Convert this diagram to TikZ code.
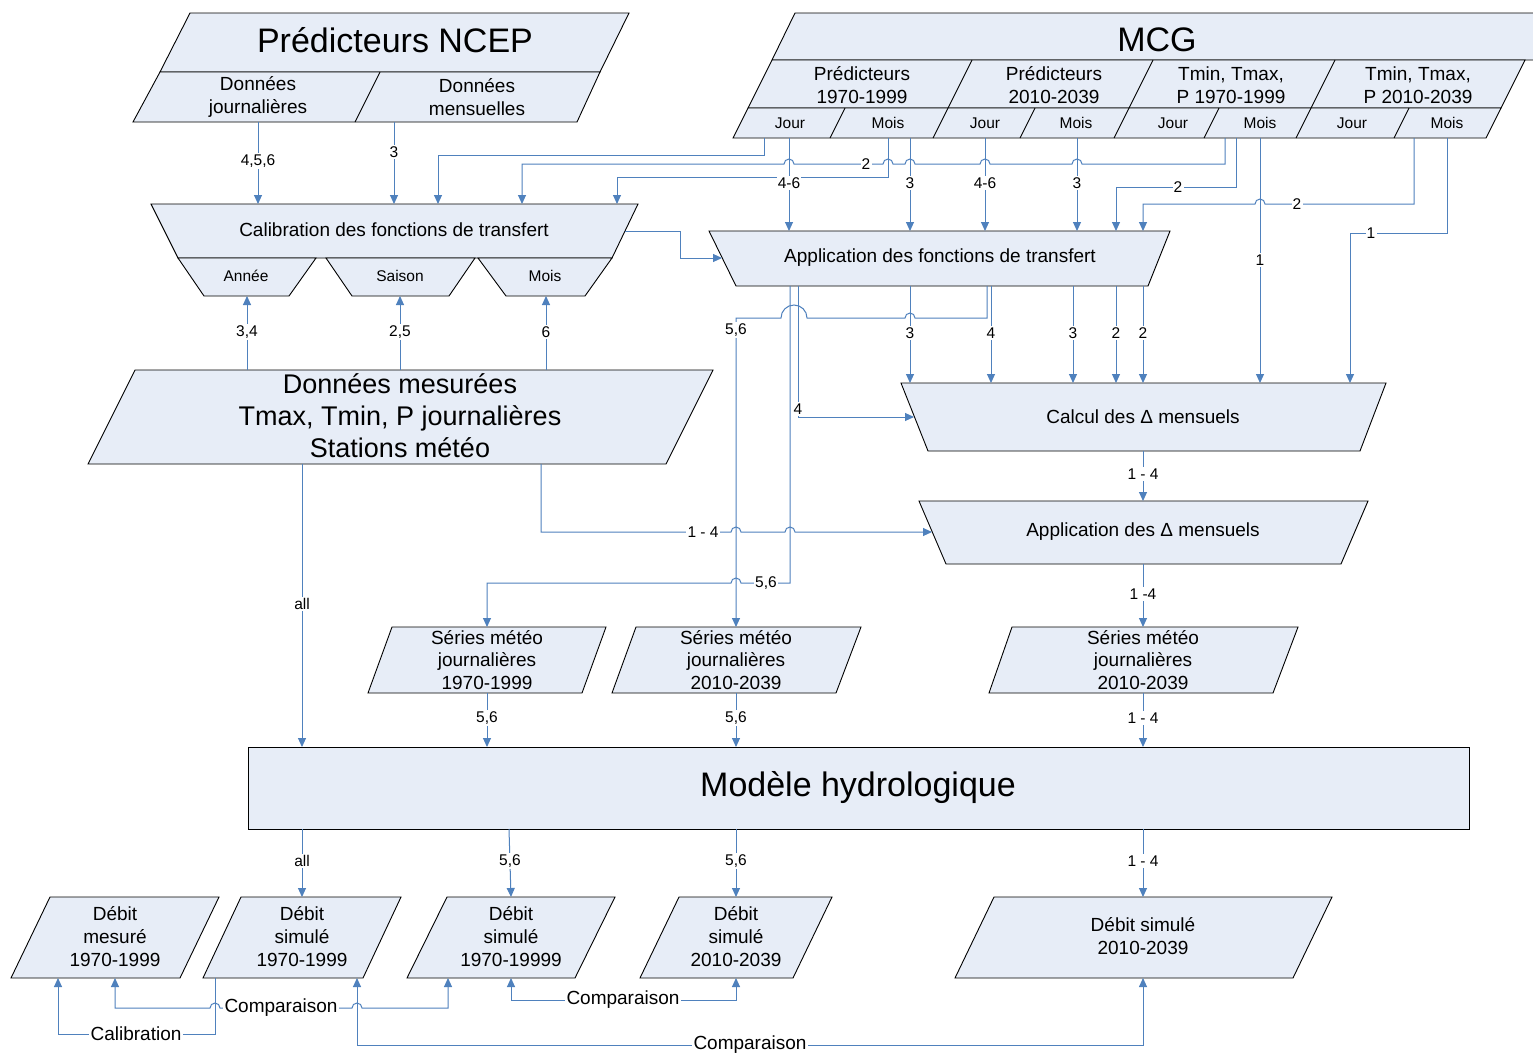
\documentclass[tikz,border=0pt]{standalone}
\usepackage{fontspec}
\setmainfont{Liberation Sans}
\usetikzlibrary{arrows.meta}
\definecolor{lb}{RGB}{79,129,189}
\definecolor{bf}{RGB}{231,237,247}
\newcommand\fsz[2]{\fontsize{#1pt}{#2pt}\selectfont}
\tikzset{
  box/.style={draw=black, line width=0.9pt, fill=bf, line join=miter},
  sep/.style={draw=black, line width=0.9pt},
  conn/.style={draw=lb, line width=1pt},
  arr/.style={conn, -{Triangle[length=9pt,width=8pt]}},
  dar/.style={conn, {Triangle[length=9pt,width=8pt]}-{Triangle[length=9pt,width=8pt]}},
  lbl/.style={fill=white, inner sep=1.2pt, font=\fsz{15.5}{18}},
  lblb/.style={fill=white, inner sep=1.2pt, font=\fsz{19}{22}},
  big/.style={font=\fsz{34}{40}},
  mid/.style={font=\fsz{19}{23}, align=center, inner sep=0pt},
  sml/.style={font=\fsz{15.5}{18}, inner sep=0pt},
  dat/.style={font=\fsz{27}{32}, align=center, inner sep=0pt},
}
\begin{document}
\begin{tikzpicture}[x=1pt,y=-1pt]
\useasboundingbox (0,0) rectangle (1533,1055);
\fill[white] (0,0) rectangle (1533,1055);
\clip (0,0) rectangle (1533,1055);

% ---------- NCEP ----------
\draw[box] (190,13) -- (629,13) -- (600,72) -- (160,72) -- cycle;
\draw[box] (160,72) -- (600,72) -- (577,122) -- (133,122) -- cycle;
\draw[sep] (380,72) -- (355,122);
\node[big] (ncep) at (395,40) {Prédicteurs NCEP};
\node[mid] (dj) at (258,97) {Données\\journalières};
\node[mid] (dm) at (477,97) {Données\\mensuelles};

% ---------- MCG ----------
\draw[box] (795,13) -- (1570,13) -- (1547,60) -- (772,60) -- cycle;
\draw[box] (772,60) -- (1525,60) -- (1501,108) -- (748,108) -- cycle;
\draw[box] (748,108) -- (1501,108) -- (1486,138) -- (733,138) -- cycle;
\draw[sep] (972,60) -- (948,108) -- (933,138);
\draw[sep] (1153,60) -- (1129,108) -- (1114,138);
\draw[sep] (1335,60) -- (1311,108) -- (1296,138);
\draw[sep] (845,108) -- (830,138);
\draw[sep] (1035,108) -- (1020,138);
\draw[sep] (1219,108) -- (1204,138);
\draw[sep] (1409,108) -- (1394,138);
\node[big] (mcg) at (1157,40) {MCG};
\node[mid] (p1) at (862,85) {Prédicteurs\\1970-1999};
\node[mid] (p2) at (1054,85) {Prédicteurs\\2010-2039};
\node[mid] (t1) at (1231,85) {Tmin, Tmax,\\P 1970-1999};
\node[mid] (t2) at (1418,85) {Tmin, Tmax,\\P 2010-2039};
\node[sml] (j1) at (790,123) {Jour};
\node[sml] (m1) at (888,123) {Mois};
\node[sml] (j2) at (985,123) {Jour};
\node[sml] (m2) at (1076,123) {Mois};
\node[sml] (j3) at (1173,123) {Jour};
\node[sml] (m3) at (1260,123) {Mois};
\node[sml] (j4) at (1352,123) {Jour};
\node[sml] (m4) at (1447,123) {Mois};

% ---------- Calibration ----------
\draw[box] (151,204) -- (638,204) -- (612,258) -- (178,258) -- cycle;
\draw[box] (178,258) -- (316,258) -- (289,296) -- (204,296) -- cycle;
\draw[box] (326,258) -- (475,258) -- (449,296) -- (352,296) -- cycle;
\draw[box] (478,258) -- (612,258) -- (585,296) -- (506,296) -- cycle;
\node[mid] (cal) at (394,230) {Calibration des fonctions de transfert};
\node[sml] (an) at (246,276) {Année};
\node[sml] (sa) at (400,276) {Saison};
\node[sml] (mo) at (545,276) {Mois};

% ---------- Application FT ----------
\draw[box] (709,231) -- (1170,231) -- (1148,286) -- (736,286) -- cycle;
\node[mid] (aft) at (940,258) {Application des fonctions de transfert};

% ---------- Données mesurées ----------
\draw[box] (135,370) -- (713,370) -- (666,464) -- (88,464) -- cycle;
\node[dat] (dmes) at (400,416) {Données mesurées\\Tmax, Tmin, P journalières\\Stations météo};

% ---------- Calcul / Application delta ----------
\draw[box] (901,383) -- (1386,383) -- (1360,451) -- (928,451) -- cycle;
\node[mid] (cd) at (1143,417) {Calcul des Δ mensuels};
\draw[box] (919,501) -- (1368,501) -- (1341,564) -- (946,564) -- cycle;
\node[mid] (ad) at (1143,532) {Application des Δ mensuels};

% ---------- Séries ----------
\draw[box] (392,627) -- (606,627) -- (582,693) -- (368,693) -- cycle;
\draw[box] (636,627) -- (861,627) -- (836,693) -- (612,693) -- cycle;
\draw[box] (1012,627) -- (1298,627) -- (1273,693) -- (989,693) -- cycle;
\node[mid, font=\fsz{19}{22.5}] (s1) at (487,660) {Séries météo\\journalières\\1970-1999};
\node[mid, font=\fsz{19}{22.5}] (s2) at (736,660) {Séries météo\\journalières\\2010-2039};
\node[mid, font=\fsz{19}{22.5}] (s3) at (1143,660) {Séries météo\\journalières\\2010-2039};

% ---------- Modèle ----------
\draw[box] (248,747) rectangle (1469,829);
\node[big] (mod) at (858,787) {Modèle hydrologique};

% ---------- Débits ----------
\draw[box] (50,897) -- (219,897) -- (180,978) -- (11,978) -- cycle;
\draw[box] (241,897) -- (401,897) -- (363,978) -- (203,978) -- cycle;
\draw[box] (447,897) -- (615,897) -- (575,978) -- (407,978) -- cycle;
\draw[box] (679,897) -- (832,897) -- (793,978) -- (640,978) -- cycle;
\draw[box] (994,897) -- (1332,897) -- (1293,978) -- (955,978) -- cycle;
\node[mid] (d1) at (115,937) {Débit\\mesuré\\1970-1999};
\node[mid] (d2) at (302,937) {Débit\\simulé\\1970-1999};
\node[mid] (d3) at (511,937) {Débit\\simulé\\1970-19999};
\node[mid] (d4) at (736,937) {Débit\\simulé\\2010-2039};
\node[mid] (d5) at (1143,936) {Débit simulé\\2010-2039};

% ---------- connectors: NCEP -> calibration ----------
\draw[arr] (258,122) -- (258,204);
\draw[arr] (394,122) -- (394,204);
\node[lbl] (l1) at (258,161) {4,5,6};
\node[lbl] (l2) at (394,152) {3};

% ---------- connectors: MCG ----------
\draw[arr] (764,138) -- (764,155) -- (438,155) -- (438,204);
\draw[arr] (789,138) -- (789,231);
\draw[arr] (1225,138) -- (1225,164) -- (1082,164) arc[start angle=0,end angle=-180,radius=5]
  -- (990,164) arc[start angle=0,end angle=-180,radius=5]
  -- (915,164) arc[start angle=0,end angle=-180,radius=5]
  -- (893,164) arc[start angle=0,end angle=-180,radius=5]
  -- (794,164) arc[start angle=0,end angle=-180,radius=5]
  -- (522,164) -- (522,204);
\draw[arr] (888,138) -- (888,177) -- (617,177) -- (617,204);
\draw[arr] (910,138) -- (910,231);
\draw[arr] (985,138) -- (985,231);
\draw[arr] (1077,138) -- (1077,231);
\draw[arr] (1236,138) -- (1236,187) -- (1116,187) -- (1116,231);
\draw[arr] (1260,138) -- (1260,383);
\draw[arr] (1414,138) -- (1414,204) -- (1265,204) arc[start angle=0,end angle=-180,radius=5] -- (1143,204) -- (1143,231);
\draw[arr] (1447,138) -- (1447,233) -- (1350,233) -- (1350,383);
\node[lbl] (l3) at (789,183) {4-6};
\node[lbl] (l4) at (866,164) {2};
\node[lbl] (l5) at (910,183) {3};
\node[lbl] (l6) at (985,183) {4-6};
\node[lbl] (l7) at (1077,183) {3};
\node[lbl] (l8) at (1178,187) {2};
\node[lbl] (l9) at (1297,204) {2};
\node[lbl] (l10) at (1260,260) {1};
\node[lbl] (l11) at (1371,233) {1};

% ---------- calibration -> application ----------
\draw[arr] (625,231) -- (680,231) -- (680,258) -- (722,258);

% ---------- données mesurées -> sub-trapezia ----------
\draw[arr] (247,370) -- (247,296);
\draw[arr] (400,370) -- (400,296);
\draw[arr] (546,370) -- (546,296);
\node[lbl] (l12) at (247,332) {3,4};
\node[lbl] (l13) at (400,332) {2,5};
\node[lbl] (l14) at (546,332) {6};

% ---------- application FT outputs ----------
\draw[arr] (987,286) -- (987,318) -- (915,318) arc[start angle=0,end angle=-180,radius=5]
  -- (807,318) arc[start angle=0,end angle=-180,radius=13] -- (736,318) -- (736,627);
\draw[arr] (790,286) -- (790,583) -- (741,583) arc[start angle=0,end angle=-180,radius=5] -- (487,583) -- (487,627);
\draw[arr] (798,286) -- (798,417) -- (914,417);
\draw[arr] (910,286) -- (910,383);
\draw[arr] (991,286) -- (991,383);
\draw[arr] (1073,286) -- (1073,383);
\draw[arr] (1116,286) -- (1116,383);
\draw[arr] (1143,286) -- (1143,383);
\node[lbl] (l15) at (736,330) {5,6};
\node[lbl] (l16) at (766,583) {5,6};
\node[lbl] (l17) at (798,409) {4};
\node[lbl] (l18) at (910,333) {3};
\node[lbl] (l19) at (991,333) {4};
\node[lbl] (l20) at (1073,333) {3};
\node[lbl] (l21) at (1116,333) {2};
\node[lbl] (l22) at (1143,333) {2};

% ---------- delta chain ----------
\draw[arr] (1143,451) -- (1143,501);
\draw[arr] (541,464) -- (541,532) -- (731,532) arc[start angle=180,end angle=360,radius=5]
  -- (785,532) arc[start angle=180,end angle=360,radius=5] -- (932,532);
\draw[arr] (1143,564) -- (1143,627);
\node[lbl] (l23) at (1143,474) {1 - 4};
\node[lbl] (l24) at (703,532) {1 - 4};
\node[lbl] (l25) at (1143,594) {1 -4};

% ---------- into the model ----------
\draw[arr] (302,464) -- (302,747);
\draw[arr] (487,693) -- (487,747);
\draw[arr] (736,693) -- (736,747);
\draw[arr] (1143,693) -- (1143,747);
\node[lbl] (l26) at (302,604) {all};
\node[lbl] (l27) at (487,718) {5,6};
\node[lbl] (l28) at (736,718) {5,6};
\node[lbl] (l29) at (1143,718) {1 - 4};

% ---------- out of the model ----------
\draw[arr] (302,829) -- (302,897);
\draw[arr] (509,829) -- (511,897);
\draw[arr] (736,829) -- (736,897);
\draw[arr] (1143,829) -- (1143,897);
\node[lbl] (l30) at (302,861) {all};
\node[lbl] (l31) at (510,861) {5,6};
\node[lbl] (l32) at (736,861) {5,6};
\node[lbl] (l33) at (1143,861) {1 - 4};

% ---------- comparisons ----------
\draw[arr] (215,978) -- (215,1034) -- (58,1034) -- (58,978);
\draw[dar] (115,978) -- (115,1008) -- (210,1008) arc[start angle=180,end angle=360,radius=5]
  -- (352,1008) arc[start angle=180,end angle=360,radius=5] -- (448,1008) -- (448,978);
\draw[dar] (511,978) -- (511,1000) -- (736,1000) -- (736,978);
\draw[dar] (357,978) -- (357,1045) -- (1143,1045) -- (1143,978);
\node[lblb] (l34) at (136,1034) {Calibration};
\node[lblb] (l35) at (281,1008) {Comparaison};
\node[lblb] (l36) at (623,1000) {Comparaison};
\node[lblb] (l37) at (750,1045) {Comparaison};
\end{tikzpicture}
\end{document}
